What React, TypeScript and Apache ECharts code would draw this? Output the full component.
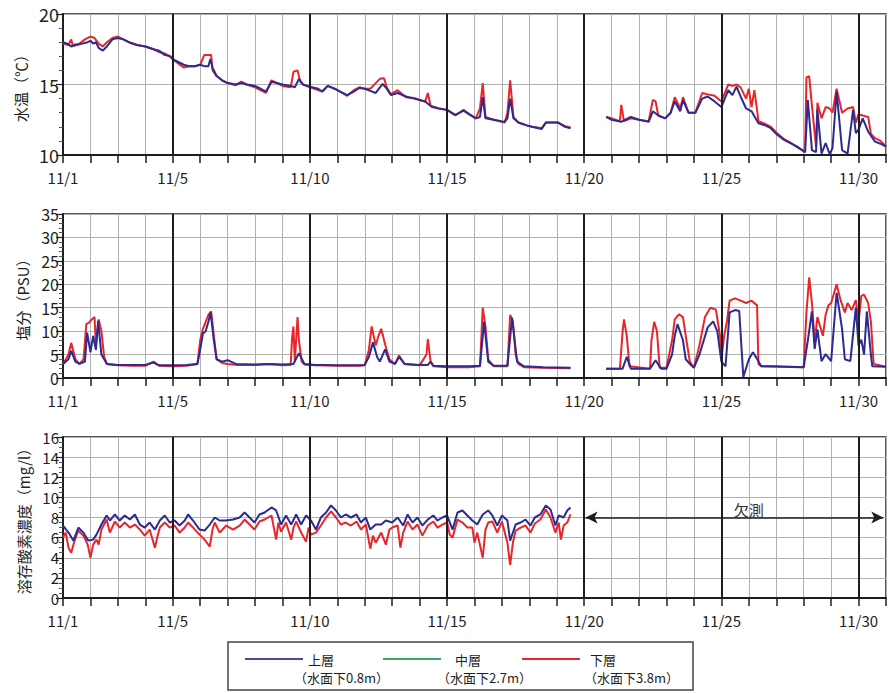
import React, { useEffect, useRef } from "react";
import * as echarts from "echarts";

type P = [number, number | null];

// x = days since 11/1 00:00
const xTickDays = [0, 4, 9, 14, 19, 24, 29];
const xTickLabels = ["11/1", "11/5", "11/10", "11/15", "11/20", "11/25", "11/30"];
const majorDays = [4, 9, 14, 19, 24, 29];

const tempUpper: P[] = [
  [0, 18.0], [0.15, 17.9], [0.3, 17.7], [0.5, 17.8], [0.7, 17.9], [0.9, 18.0], [1.0, 18.1], [1.1, 17.9], [1.2, 18.0], [1.3, 17.6], [1.45, 17.4], [1.6, 17.7], [1.8, 18.2], [2.0, 18.3], [2.2, 18.2], [2.4, 18.0], [2.7, 17.8], [3.0, 17.7], [3.3, 17.5], [3.5, 17.4], [3.7, 17.1], [3.9, 17.0], [4.0, 16.8], [4.2, 16.6], [4.4, 16.4], [4.6, 16.3], [4.8, 16.3], [5.0, 16.4], [5.15, 16.3], [5.3, 16.3], [5.37, 16.8], [5.45, 16.2], [5.6, 15.6], [5.8, 15.3], [6.0, 15.1], [6.3, 15.0], [6.5, 15.1], [6.7, 15.0], [7.0, 14.9], [7.2, 14.7], [7.4, 14.5], [7.6, 15.2], [7.8, 15.1], [8.0, 15.0], [8.3, 14.9], [8.45, 14.8], [8.6, 15.4], [8.75, 15.0], [9.0, 14.85], [9.3, 14.7], [9.45, 14.5], [9.65, 14.9], [9.9, 14.7], [10.1, 14.5], [10.36, 14.25], [10.6, 14.5], [10.8, 14.75], [11.0, 14.7], [11.2, 14.55], [11.4, 14.4], [11.65, 15.05], [11.8, 14.7], [11.95, 14.25], [12.2, 14.4], [12.5, 14.15], [12.8, 14.0], [13.0, 13.9], [13.2, 13.8], [13.45, 13.4], [13.7, 13.3], [14.0, 13.2], [14.3, 12.85], [14.6, 13.15], [14.8, 12.9], [15.05, 12.6], [15.2, 12.7], [15.3, 14.1], [15.4, 12.6], [15.7, 12.5], [16.1, 12.35], [16.2, 12.6], [16.3, 14.0], [16.42, 12.6], [16.6, 12.3], [16.9, 12.1], [17.1, 12.0], [17.45, 11.85], [17.6, 12.3], [18.05, 12.3], [18.3, 12.0], [18.5, 11.9], [19.2, null],
  [19.8, 12.7], [20.0, 12.5], [20.35, 12.35], [20.5, 12.5], [20.7, 12.7], [21.0, 12.5], [21.35, 12.35], [21.5, 13.1], [21.7, 12.8], [21.95, 12.6], [22.15, 13.0], [22.3, 13.8], [22.5, 13.1], [22.6, 13.9], [22.8, 13.0], [23.05, 13.0], [23.3, 14.0], [23.5, 14.15], [23.75, 13.8], [24.0, 13.4], [24.25, 14.6], [24.4, 14.25], [24.55, 14.85], [24.7, 14.15], [24.9, 13.3], [25.1, 13.1], [25.35, 12.25], [25.6, 12.1], [25.8, 11.9], [26.0, 11.5], [26.3, 11.05], [26.55, 10.8], [26.8, 10.55], [27.05, 10.2], [27.15, 13.9], [27.3, 10.35], [27.45, 10.2], [27.5, 13.2], [27.65, 10.1], [27.8, 10.85], [27.95, 10.05], [28.05, 10.5], [28.2, 14.5], [28.4, 10.35], [28.6, 10.1], [28.8, 13.2], [28.9, 11.55], [29.0, 11.8], [29.15, 12.6], [29.35, 11.65], [29.6, 10.95], [29.8, 10.8], [30, 10.6],
];

const tempLower: P[] = [
  [0, 17.9], [0.2, 17.8], [0.3, 18.2], [0.35, 17.8], [0.6, 17.9], [0.8, 18.2], [1.0, 18.4], [1.15, 18.3], [1.3, 17.9], [1.45, 17.7], [1.6, 18.0], [1.8, 18.3], [2.0, 18.4], [2.2, 18.2], [2.4, 18.0], [2.7, 17.8], [3.0, 17.7], [3.3, 17.5], [3.5, 17.3], [3.7, 17.2], [3.9, 17.0], [4.0, 16.8], [4.2, 16.5], [4.4, 16.2], [4.6, 16.3], [4.8, 16.3], [5.0, 16.4], [5.15, 17.1], [5.4, 17.1], [5.45, 16.0], [5.6, 15.6], [5.8, 15.3], [6.0, 15.1], [6.3, 14.95], [6.5, 15.2], [6.7, 15.0], [7.0, 14.8], [7.2, 14.6], [7.4, 14.4], [7.6, 15.3], [7.8, 15.1], [8.0, 14.9], [8.3, 14.8], [8.4, 15.9], [8.55, 16.0], [8.65, 15.2], [8.75, 15.0], [9.0, 14.8], [9.3, 14.6], [9.45, 14.5], [9.65, 14.9], [9.9, 14.7], [10.1, 14.5], [10.36, 14.2], [10.6, 14.6], [10.8, 14.8], [11.0, 14.7], [11.2, 14.7], [11.4, 15.1], [11.55, 15.4], [11.7, 15.45], [11.8, 14.8], [11.95, 14.3], [12.2, 14.6], [12.5, 14.1], [12.8, 14.05], [13.0, 13.9], [13.2, 13.8], [13.3, 14.4], [13.4, 13.5], [13.7, 13.3], [14.0, 13.2], [14.3, 12.8], [14.6, 13.2], [14.8, 12.9], [15.05, 12.6], [15.2, 13.3], [15.3, 15.1], [15.4, 12.7], [15.7, 12.5], [16.1, 12.3], [16.2, 13.0], [16.3, 15.3], [16.42, 12.7], [16.6, 12.3], [16.9, 12.1], [17.1, 12.0], [17.45, 11.9], [17.6, 12.3], [18.05, 12.3], [18.3, 12.05], [18.5, 11.95], [19.2, null],
  [19.8, 12.7], [20.0, 12.6], [20.3, 12.4], [20.35, 13.55], [20.45, 12.4], [20.7, 12.6], [21.0, 12.5], [21.35, 12.4], [21.5, 13.9], [21.6, 13.8], [21.7, 12.8], [21.95, 12.6], [22.15, 13.0], [22.3, 14.1], [22.5, 13.3], [22.6, 14.1], [22.8, 13.0], [23.05, 13.0], [23.3, 14.4], [23.5, 14.3], [23.75, 14.2], [24.0, 13.8], [24.25, 15.0], [24.4, 14.9], [24.55, 15.0], [24.7, 14.8], [24.9, 14.0], [25.0, 14.7], [25.1, 13.4], [25.2, 14.6], [25.3, 13.2], [25.35, 12.4], [25.6, 12.2], [25.8, 12.0], [26.0, 11.6], [26.3, 11.1], [26.55, 10.85], [26.8, 10.5], [27.05, 10.2], [27.1, 15.5], [27.2, 15.6], [27.3, 13.5], [27.45, 10.6], [27.5, 13.7], [27.65, 12.6], [27.8, 13.4], [27.95, 13.3], [28.05, 13.0], [28.2, 14.7], [28.4, 13.0], [28.6, 13.3], [28.8, 13.4], [28.9, 12.3], [29.0, 12.9], [29.15, 12.8], [29.35, 12.7], [29.45, 11.5], [29.6, 11.2], [29.8, 11.0], [30, 10.6],
];

const salUpper: P[] = [
  [0, 3.0], [0.2, 4.0], [0.3, 5.8], [0.45, 3.5], [0.6, 3.0], [0.8, 3.5], [0.88, 9.7], [1.0, 5.5], [1.1, 9.0], [1.2, 6.0], [1.28, 12.2], [1.4, 5.0], [1.5, 4.0], [1.6, 3.0], [2.0, 2.8], [2.5, 2.8], [3.0, 2.8], [3.3, 3.3], [3.5, 2.7], [4.0, 2.7], [4.5, 2.8], [4.9, 3.0], [5.0, 6.0], [5.1, 9.5], [5.2, 10.0], [5.3, 12.0], [5.38, 14.0], [5.5, 8.0], [5.6, 4.0], [5.8, 3.5], [6.0, 3.8], [6.3, 3.0], [7.0, 2.9], [7.5, 3.0], [8.0, 2.9], [8.4, 3.0], [8.6, 5.3], [8.8, 3.0], [9.2, 2.8], [9.5, 2.8], [10.0, 2.7], [10.8, 2.7], [11.0, 2.8], [11.15, 4.5], [11.3, 7.6], [11.45, 4.5], [11.55, 3.5], [11.74, 6.1], [11.9, 3.5], [12.1, 3.0], [12.25, 4.5], [12.45, 3.0], [13.0, 2.8], [13.3, 2.8], [13.4, 3.5], [13.5, 2.6], [14.0, 2.5], [14.8, 2.5], [15.2, 2.6], [15.35, 12.0], [15.5, 3.5], [15.7, 2.6], [16.2, 2.6], [16.37, 12.9], [16.55, 3.5], [16.8, 2.5], [17.5, 2.3], [18.5, 2.2], [19.2, null],
  [19.8, 2.0], [20.4, 2.0], [20.55, 4.5], [20.7, 2.0], [21.4, 2.0], [21.6, 3.8], [21.8, 2.0], [22.0, 2.0], [22.2, 5.0], [22.3, 9.0], [22.4, 11.5], [22.6, 8.0], [22.7, 4.0], [22.85, 3.0], [23.0, 2.2], [23.2, 5.0], [23.5, 10.8], [23.7, 12.1], [23.85, 10.0], [24.0, 3.5], [24.15, 2.5], [24.3, 14.0], [24.5, 14.5], [24.65, 14.3], [24.8, 0.2], [25.0, 4.0], [25.15, 5.5], [25.35, 3.6], [25.45, 2.5], [26.0, 2.5], [27.0, 2.3], [27.15, 8.0], [27.3, 14.2], [27.4, 6.2], [27.5, 10.4], [27.65, 3.6], [27.8, 5.1], [28.0, 3.6], [28.2, 18.2], [28.4, 10.4], [28.5, 4.0], [28.7, 3.6], [28.9, 15.0], [29.0, 6.9], [29.1, 8.2], [29.2, 5.0], [29.3, 14.2], [29.45, 5.0], [29.5, 2.5], [30, 2.4],
];

const salLower: P[] = [
  [0, 3.0], [0.2, 5.0], [0.3, 7.5], [0.45, 4.0], [0.6, 3.0], [0.75, 4.0], [0.85, 11.5], [0.95, 11.8], [1.05, 12.5], [1.15, 13.0], [1.2, 7.0], [1.3, 12.5], [1.4, 10.0], [1.5, 4.5], [1.6, 3.0], [2.0, 2.7], [2.5, 2.6], [3.0, 2.6], [3.3, 3.5], [3.5, 2.6], [4.0, 2.5], [4.5, 2.6], [4.9, 3.0], [5.0, 8.0], [5.1, 10.5], [5.2, 12.0], [5.3, 13.5], [5.4, 14.2], [5.5, 9.0], [5.6, 4.0], [5.8, 3.2], [6.0, 3.0], [6.3, 2.8], [7.0, 2.8], [7.5, 3.0], [8.0, 2.7], [8.3, 2.8], [8.35, 8.5], [8.4, 11.0], [8.45, 3.5], [8.55, 13.0], [8.6, 8.0], [8.7, 3.5], [8.8, 2.9], [9.2, 2.7], [10.0, 2.6], [10.8, 2.6], [11.0, 2.7], [11.15, 6.0], [11.25, 11.0], [11.4, 7.0], [11.5, 9.0], [11.6, 10.5], [11.75, 7.0], [11.9, 4.0], [12.1, 3.0], [12.25, 4.8], [12.45, 3.0], [13.0, 2.7], [13.25, 5.0], [13.3, 8.3], [13.4, 3.5], [13.5, 2.5], [14.0, 2.3], [14.8, 2.3], [15.2, 2.5], [15.3, 15.0], [15.4, 11.0], [15.5, 4.0], [15.7, 2.5], [16.2, 2.5], [16.3, 13.5], [16.4, 12.0], [16.5, 5.0], [16.6, 3.0], [16.8, 2.3], [17.5, 2.2], [18.5, 2.1], [19.2, null],
  [19.8, 2.0], [20.3, 2.0], [20.4, 10.0], [20.45, 12.5], [20.55, 9.0], [20.65, 2.5], [21.4, 2.0], [21.45, 8.0], [21.55, 12.0], [21.65, 10.0], [21.75, 2.2], [22.0, 2.2], [22.2, 8.0], [22.3, 12.5], [22.45, 13.6], [22.6, 13.0], [22.7, 9.0], [22.85, 3.5], [23.0, 2.2], [23.2, 7.0], [23.4, 13.0], [23.6, 15.0], [23.8, 14.6], [23.95, 9.0], [24.0, 4.0], [24.1, 9.0], [24.2, 12.0], [24.3, 16.5], [24.5, 17.0], [24.7, 16.5], [24.9, 16.0], [25.1, 16.5], [25.3, 15.5], [25.35, 3.0], [25.45, 2.5], [26.0, 2.4], [27.0, 2.3], [27.1, 14.0], [27.2, 21.5], [27.3, 16.0], [27.4, 8.0], [27.5, 13.0], [27.6, 11.0], [27.7, 9.0], [27.8, 13.5], [27.9, 15.5], [28.0, 16.0], [28.2, 20.0], [28.35, 16.5], [28.5, 14.0], [28.6, 16.0], [28.75, 14.5], [28.9, 16.6], [29.0, 12.0], [29.1, 17.5], [29.2, 17.8], [29.35, 16.0], [29.45, 12.0], [29.55, 3.0], [30, 2.4],
];

const doUpper: P[] = [
  [0.0, 7.2], [0.2, 6.5], [0.38, 5.7], [0.56, 7.0], [0.74, 6.5], [0.92, 5.7], [1.1, 5.8], [1.22, 6.3], [1.4, 7.3], [1.59, 8.2], [1.71, 7.7], [1.89, 8.3], [2.07, 7.7], [2.25, 8.2], [2.44, 7.8], [2.62, 8.3], [2.8, 7.3], [2.98, 7.0], [3.16, 7.5], [3.35, 6.8], [3.53, 7.7], [3.71, 8.2], [3.89, 7.5], [4.07, 7.7], [4.25, 7.2], [4.44, 7.7], [4.56, 8.3], [4.74, 7.7], [4.98, 6.8], [5.16, 6.7], [5.35, 7.3], [5.53, 8.0], [5.71, 7.7], [5.95, 7.7], [6.2, 7.8], [6.44, 8.0], [6.62, 8.5], [6.8, 8.0], [6.98, 7.5], [7.16, 8.3], [7.35, 8.5], [7.6, 9.0], [7.77, 8.7], [7.95, 7.3], [8.13, 8.2], [8.32, 7.3], [8.5, 8.3], [8.68, 7.3], [8.86, 8.2], [9.04, 7.7], [9.22, 6.8], [9.4, 8.0], [9.59, 8.5], [9.77, 9.2], [9.95, 8.7], [10.13, 8.0], [10.3, 8.3], [10.5, 8.0], [10.7, 8.3], [10.86, 7.5], [11.04, 8.0], [11.2, 6.8], [11.4, 7.3], [11.6, 7.3], [11.77, 7.7], [12.0, 7.5], [12.2, 8.0], [12.4, 7.2], [12.56, 8.3], [12.74, 7.5], [12.92, 8.0], [13.1, 7.2], [13.3, 7.8], [13.5, 8.2], [13.65, 7.7], [13.83, 8.0], [14.0, 8.2], [14.2, 6.8], [14.38, 8.5], [14.56, 8.7], [14.74, 8.2], [14.92, 7.7], [15.1, 7.3], [15.3, 8.3], [15.5, 8.7], [15.65, 8.2], [15.83, 7.2], [16.0, 8.2], [16.2, 7.7], [16.3, 5.7], [16.5, 7.3], [16.68, 7.5], [16.86, 7.8], [17.04, 7.2], [17.2, 8.0], [17.4, 8.3], [17.6, 9.2], [17.77, 8.8], [17.95, 7.2], [18.07, 8.2], [18.25, 8.0], [18.38, 8.7], [18.5, 9.0],
];

const doLower: P[] = [
  [0, 6.0], [0.1, 6.5], [0.2, 5.0], [0.3, 4.5], [0.4, 5.5], [0.55, 6.7], [0.74, 6.2], [0.9, 5.3], [1.0, 4.0], [1.1, 5.3], [1.22, 5.8], [1.3, 5.3], [1.4, 6.8], [1.59, 7.8], [1.71, 6.5], [1.89, 7.6], [2.07, 7.0], [2.25, 7.5], [2.44, 7.0], [2.62, 7.3], [2.8, 6.8], [2.98, 6.2], [3.16, 6.8], [3.35, 5.0], [3.45, 6.2], [3.53, 7.0], [3.71, 7.5], [3.89, 7.0], [4.07, 7.2], [4.25, 6.5], [4.44, 7.0], [4.56, 7.5], [4.74, 7.0], [4.98, 6.3], [5.16, 5.8], [5.35, 5.1], [5.45, 6.8], [5.53, 7.5], [5.71, 6.5], [5.95, 7.2], [6.2, 6.8], [6.44, 7.2], [6.62, 7.8], [6.8, 7.3], [6.98, 6.8], [7.16, 7.6], [7.35, 7.8], [7.6, 8.2], [7.77, 5.8], [7.85, 7.5], [7.95, 6.6], [8.13, 7.5], [8.32, 5.8], [8.4, 7.0], [8.5, 7.6], [8.68, 6.5], [8.86, 5.6], [8.95, 7.0], [9.04, 6.3], [9.22, 6.5], [9.4, 7.2], [9.59, 8.0], [9.77, 8.6], [9.95, 8.0], [10.13, 7.3], [10.3, 7.5], [10.5, 7.2], [10.7, 7.6], [10.86, 6.8], [11.04, 7.3], [11.2, 4.9], [11.3, 6.2], [11.4, 5.5], [11.6, 6.5], [11.77, 5.3], [11.9, 6.8], [12.0, 7.0], [12.2, 7.2], [12.3, 5.0], [12.4, 6.5], [12.56, 7.6], [12.74, 6.8], [12.92, 7.3], [13.1, 6.2], [13.3, 7.2], [13.5, 7.6], [13.65, 7.0], [13.83, 7.3], [14.0, 7.5], [14.1, 6.3], [14.2, 6.0], [14.38, 7.8], [14.56, 7.5], [14.74, 7.0], [14.92, 7.0], [15.0, 5.5], [15.1, 6.5], [15.3, 4.0], [15.4, 6.8], [15.5, 7.5], [15.65, 7.6], [15.83, 6.5], [16.0, 7.6], [16.2, 5.5], [16.3, 3.3], [16.4, 5.5], [16.5, 6.7], [16.68, 7.0], [16.86, 7.2], [17.04, 6.5], [17.2, 7.4], [17.4, 7.8], [17.6, 8.8], [17.77, 8.0], [17.95, 6.5], [18.07, 7.5], [18.15, 5.8], [18.25, 7.2], [18.38, 7.5], [18.5, 8.3],
];

const missingFrom = 19.05;
const missingTo = 29.9;
const missingLevel = 8;

const FONT = "'Noto Sans CJK JP', 'Noto Sans', sans-serif";
const BLUE = "#2b2b92";
const RED = "#e8262a";
const GREEN = "#3caa68";
const GRID_GRAY = "#b0b0b0";
const INK = "#1e1e1e";

export default function App() {
  const ref = useRef<HTMLDivElement>(null);

  useEffect(() => {
    if (!ref.current) return;
    const chart = echarts.init(ref.current, undefined, { renderer: "svg" });

    const grids = [
      { left: 63, top: 14, width: 825, height: 141 },
      { left: 63, top: 214, width: 825, height: 164 },
      { left: 63, top: 437, width: 825, height: 161 },
    ].map((g) => ({ ...g, show: true, borderColor: INK, borderWidth: 1.5, backgroundColor: "#fff" }));

    const xAxes = [0, 1, 2].map((i) => ({
      type: "value",
      gridIndex: i,
      min: 0,
      max: 30,
      interval: 1,
      axisLine: { show: true, lineStyle: { color: INK, width: 2 } },
      axisTick: { show: true, inside: false, length: 8, lineStyle: { color: INK, width: 1.5 } },
      axisLabel: {
        show: true,
        margin: 15,
        fontSize: 15,
        color: INK,
        fontFamily: FONT,
        formatter: (v: number) => {
          const k = xTickDays.indexOf(Math.round(v));
          return k >= 0 && Math.abs(v - Math.round(v)) < 1e-6 ? xTickLabels[k] : "";
        },
      },
      splitLine: { show: true, lineStyle: { color: GRID_GRAY, width: 1 } },
    }));

    const yCommon = (i: number, min: number, max: number, interval: number, minorSplit: number, name: string, fontSize: number, nameGap: number) => ({
      type: "value",
      gridIndex: i,
      min,
      max,
      interval,
      name,
      nameLocation: "middle",
      nameGap,
      nameRotate: 90,
      nameTextStyle: { fontSize: 15, color: INK, fontFamily: FONT },
      axisLine: { show: true, lineStyle: { color: INK, width: 2 } },
      axisTick: { show: true, inside: false, length: 7, lineStyle: { color: INK, width: 1.2 } },
      minorTick: { show: true, splitNumber: minorSplit, length: 4, lineStyle: { color: "#555", width: 1 } },
      axisLabel: { fontSize, color: INK, fontFamily: FONT, margin: 4, lineHeight: fontSize },
      splitLine: { show: true, lineStyle: { color: GRID_GRAY, width: 1 } },
    });

    const yAxes = [
      yCommon(0, 10, 20, 5, 5, "水温（℃）", 18, 32),
      yCommon(1, 0, 35, 5, 5, "塩分（PSU）", 16, 32),
      yCommon(2, 0, 16, 2, 4, "溶存酸素濃度（mg/l）", 15, 32),
    ];

    const majorLines = {
      silent: true,
      symbol: ["none", "none"],
      label: { show: false },
      lineStyle: { color: INK, width: 2, type: "solid" },
      data: majorDays.map((d) => ({ xAxis: d })),
    };

    const line = (name: string, data: P[], color: string, idx: number, z: number, extra: any = {}) => ({
      type: "line",
      name,
      data,
      xAxisIndex: idx,
      yAxisIndex: idx,
      showSymbol: false,
      symbol: "none",
      connectNulls: false,
      lineStyle: { color, width: 2 },
      itemStyle: { color },
      z,
      ...extra,
    });

    const series = [
      line("下層", tempLower, RED, 0, 3, { markLine: majorLines }),
      line("上層", tempUpper, BLUE, 0, 4),
      line("下層", salLower, RED, 1, 3, { markLine: majorLines }),
      line("上層", salUpper, BLUE, 1, 4),
      line("下層", doLower, RED, 2, 3, { markLine: majorLines }),
      line("上層", doUpper, BLUE, 2, 4, {
        markLine: {
          silent: true,
          symbol: ["arrow", "arrow"],
          symbolSize: [9, 12],
          label: { show: false },
          lineStyle: { color: INK, width: 1.5, type: "solid" },
          data: [[{ coord: [missingFrom, missingLevel] }, { coord: [missingTo, missingLevel] }]],
        },
        markPoint: {
          silent: true,
          symbol: "circle",
          symbolSize: 0,
          label: { show: true, position: "top", distance: 1, formatter: "欠測", fontSize: 15, color: "#333", fontFamily: FONT },
          data: [{ coord: [25, missingLevel], value: 0 }],
        },
      }),
    ];

    const legendItems = [
      { color: "#4a4aa6", x: 245, t1: "上層", t2: "（水面下0.8m）", tx1: 308, tx2: 294 },
      { color: GREEN, x: 383, t1: "中層", t2: "（水面下2.7m）", tx1: 455, tx2: 437 },
      { color: RED, x: 522, t1: "下層", t2: "（水面下3.8m）", tx1: 590, tx2: 584 },
    ];

    const graphic: any[] = [
      { type: "rect", shape: { x: 228, y: 642, width: 465, height: 48 }, style: { fill: "#fff", stroke: "#444", lineWidth: 1.5 }, z: 10 },
    ];
    legendItems.forEach((it) => {
      graphic.push({ type: "line", shape: { x1: it.x, y1: 659, x2: it.x + 58, y2: 659 }, style: { stroke: it.color, lineWidth: 2 }, z: 11 });
      graphic.push({ type: "text", x: it.tx1, y: 659, style: { text: it.t1, fontSize: 13, fill: INK, fontFamily: FONT, verticalAlign: "middle" }, z: 11 });
      graphic.push({ type: "text", x: it.tx2, y: 677, style: { text: it.t2, fontSize: 13, fill: INK, fontFamily: FONT, verticalAlign: "middle" }, z: 11 });
    });

    chart.setOption({
      animation: false,
      backgroundColor: "#fff",
      textStyle: { fontFamily: FONT },
      grid: grids,
      xAxis: xAxes,
      yAxis: yAxes,
      series,
      graphic,
    } as any);

    return () => chart.dispose();
  }, []);

  return <div ref={ref} style={{ position: "absolute", left: 0, top: 0, width: 889, height: 693 }} />;
}
